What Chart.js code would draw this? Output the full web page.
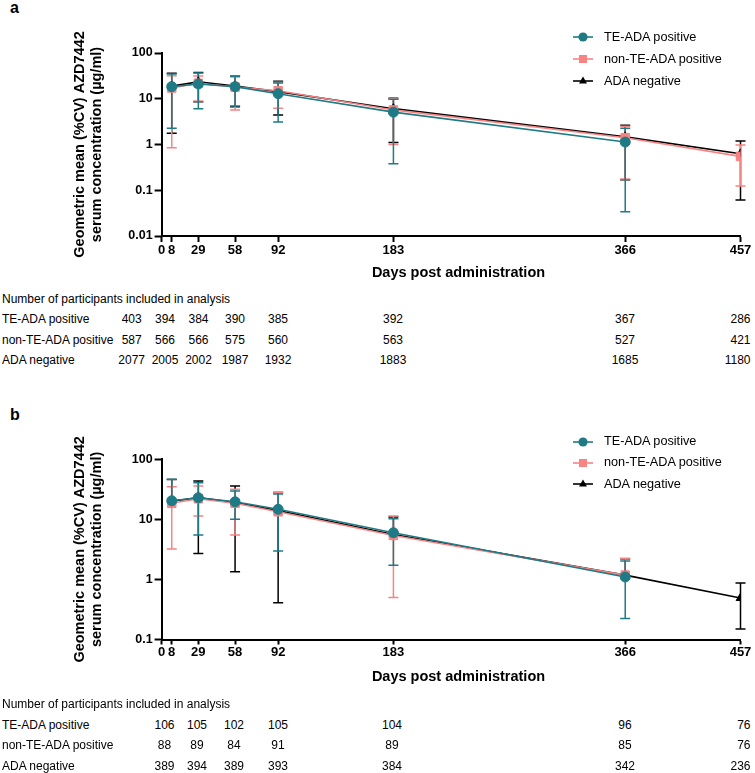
<!DOCTYPE html>
<html>
<head>
<meta charset="utf-8">
<script src="https://cdn.jsdelivr.net/npm/chart.js@4.4.1/dist/chart.umd.min.js"></script>
<style>
html,body{margin:0;padding:0;background:#fff;}
#page{position:relative;width:755px;height:773px;overflow:hidden;font-family:"Liberation Sans",Arial,sans-serif;color:#000;}
.cv{position:absolute;left:0;}
.t{position:absolute;white-space:nowrap;font-size:12px;line-height:12px;color:#000;}
.lbl{position:absolute;font-weight:bold;font-size:16px;line-height:16px;}
.lg{position:absolute;white-space:nowrap;font-size:12.7px;line-height:13px;}
.xt{position:absolute;white-space:nowrap;font-weight:bold;font-size:14.5px;line-height:17px;width:300px;text-align:center;}
</style>
</head>
<body>
<div id="page">
  <div class="lbl" style="left:10px;top:0px;">a</div>
  <div class="lbl" style="left:10px;top:407px;">b</div>
  <canvas id="chartA" class="cv" width="755" height="290" style="top:0px;width:755px;height:290px;"></canvas>
  <canvas id="chartB" class="cv" width="755" height="300" style="top:400px;width:755px;height:300px;"></canvas>
</div>
<script>
// ---------- data ----------
const days = [8, 29, 58, 92, 183, 366, 457];
const xTickValues = [0, 8, 29, 58, 92, 183, 366, 457];
const seriesNames = ['TE-ADA positive', 'non-TE-ADA positive', 'ADA negative'];
const yTicksA = [0.01, 0.1, 1, 10, 100];
const yTicksB = [0.1, 1, 10, 100];
const yTitle = ['Geometric mean (%CV) AZD7442', 'serum concentration (\u00b5g/ml)'];
const xTitle = 'Days post administration';

// Panel a: geometric mean and error-bar ends (µg/ml)
const aTeMean  = [18.4, 21.0, 18.4, 12.9, 5.1, 1.13, null];
const aTeHigh  = [34.8, 36.5, 31.0, 22.0, 9.7, 2.26, null];
const aTeLow   = [2.26, 6.07, 6.9, 3.1, 0.38, 0.034, null];
const aNonMean = [17.2, 21.8, 18.0, 15.0, 5.7, 1.41, 0.55];
const aNonHigh = [32.0, 31.6, 30.0, 23.0, 10.0, 2.5, 0.98];
const aNonLow  = [0.85, 8.9, 5.7, 6.2, 1.0, 0.176, 0.124];
const aNegMean = [18.9, 23.4, 19.0, 14.3, 6.07, 1.47, 0.63];
const aNegHigh = [36.0, 37.6, 31.0, 24.0, 10.2, 2.63, 1.19];
const aNegLow  = [1.76, 8.6, 6.7, 4.4, 1.1, 0.17, 0.061];

// Panel b
const bTeMean  = [20.4, 22.9, 19.6, 14.7, 5.98, 1.10, null];
const bTeHigh  = [46.4, 40.7, 29.6, 26.4, 10.2, 2.02, null];
const bTeLow   = [null, 5.47, 10.0, 2.96, 1.73, 0.224, null];
const bNonMean = [18.5, 22.0, 18.5, 13.4, 5.4, 1.18, null];
const bNonHigh = [34.9, 35.9, 31.6, 28.2, 11.4, 2.26, null];
const bNonLow  = [3.2, 11.4, 5.47, null, 0.5, null, null];
const bNegMean = [20.0, 23.0, 19.0, 14.0, 5.6, 1.18, 0.49];
const bNegHigh = [46.0, 43.5, 35.9, 28.0, 11.0, 2.2, 0.87];
const bNegLow  = [null, 2.71, 1.34, 0.41, null, null, 0.149];

// Participant tables
const tableHeader = 'Number of participants included in analysis';
const aTableTe  = [403, 394, 384, 390, 385, 392, 367, 286];
const aTableNon = [587, 566, 566, 575, 560, 563, 527, 421];
const aTableNeg = [2077, 2005, 2002, 1987, 1932, 1883, 1685, 1180];
const bTableTe  = [106, 105, 102, 105, 104, 96, 76];
const bTableNon = [88, 89, 84, 91, 89, 85, 76];
const bTableNeg = [389, 394, 389, 393, 384, 342, 236];

// ---------- style / layout ----------
const FONT = "'Liberation Sans', Arial, sans-serif";
const COLORS = ['#1e7b85', '#f88383', '#000000'];
const STYLES = ['circle', 'rect', 'triangle'];
const RADII = [5, 6, 5];

const errorBarPlugin = {
  id: 'errbars',
  beforeDatasetsDraw(chart) {
    const ctx = chart.ctx, xs = chart.scales.x, ys = chart.scales.y;
    const cap = 5;
    for (let di = chart.data.datasets.length - 1; di >= 0; di--) {
      const ds = chart.data.datasets[di];
      ctx.save();
      ctx.strokeStyle = ds.borderColor;
      ctx.lineWidth = 1.5;
      ds.data.forEach((pt, i) => {
        if (!pt || pt.y == null) return;
        const hi = ds.errHigh[i], lo = ds.errLow[i];
        const px = xs.getPixelForValue(pt.x);
        const py = ys.getPixelForValue(pt.y);
        const top = hi != null ? ys.getPixelForValue(hi) : py;
        const bot = lo != null ? ys.getPixelForValue(lo) : py;
        ctx.beginPath();
        ctx.moveTo(px, top); ctx.lineTo(px, bot);
        if (hi != null) { ctx.moveTo(px - cap, top); ctx.lineTo(px + cap, top); }
        if (lo != null) { ctx.moveTo(px - cap, bot); ctx.lineTo(px + cap, bot); }
        ctx.stroke();
      });
      ctx.restore();
    }
  }
};

function makeDataset(idx, mean, hi, lo) {
  return {
    label: seriesNames[idx],
    data: days.map((d, i) => ({ x: d, y: mean[i] })),
    errHigh: hi, errLow: lo,
    borderColor: COLORS[idx], backgroundColor: COLORS[idx],
    borderWidth: 1.6,
    pointStyle: STYLES[idx], pointRadius: RADII[idx],
    pointBorderWidth: 1, pointBackgroundColor: COLORS[idx], pointBorderColor: COLORS[idx],
    spanGaps: false, tension: 0, fill: false
  };
}

function makeChart(id, sets, yMin, yMax, yTicks, L) {
  return new Chart(document.getElementById(id), {
    type: 'line',
    data: { datasets: sets },
    options: {
      responsive: false, animation: false, devicePixelRatio: 1,
      layout: { padding: { top: L.top, right: L.right, left: 0, bottom: 0 } },
      plugins: { legend: { display: false }, tooltip: { enabled: false } },
      scales: {
        x: {
          type: 'linear', min: 0, max: 457,
          afterBuildTicks: s => { s.ticks = xTickValues.map(v => ({ value: v })); },
          afterFit: s => { s.height = L.xh; },
          ticks: { autoSkip: false, maxRotation: 0, minRotation: 0, padding: L.tp, color: '#000',
                   font: { family: FONT, size: 13, weight: 'bold' }, callback: v => String(v) },
          grid: { drawOnChartArea: false, drawTicks: true, tickLength: L.tl, tickWidth: 2, tickColor: '#000' },
          border: { display: true, color: '#000', width: 2 },
          title: { display: false }
        },
        y: {
          type: 'logarithmic', min: yMin, max: yMax,
          afterBuildTicks: s => { s.ticks = yTicks.map(v => ({ value: v, major: true })); },
          afterFit: s => { s.width = 161.6; },
          ticks: { padding: 2, color: '#000', font: { family: FONT, size: 12.5, weight: 'bold' },
                   callback: v => String(v) },
          grid: { drawOnChartArea: false, drawTicks: true, tickLength: 7, tickWidth: 2, tickColor: '#000' },
          border: { display: true, color: '#000', width: 2 },
          title: { display: true, text: yTitle, color: '#000',
                   font: { family: FONT, size: 14.5, weight: 'bold', lineHeight: '17px' },
                   padding: { top: 71.5, bottom: 0 } }
        }
      }
    },
    plugins: [errorBarPlugin]
  });
}

makeChart('chartA', [
  makeDataset(0, aTeMean, aTeHigh, aTeLow),
  makeDataset(1, aNonMean, aNonHigh, aNonLow),
  makeDataset(2, aNegMean, aNegHigh, aNegLow)
], 0.01, 100, yTicksA, { top: 53, right: 14.5, xh: 54, tl: 6, tp: 1 });

makeChart('chartB', [
  makeDataset(0, bTeMean, bTeHigh, bTeLow),
  makeDataset(1, bNonMean, bNonHigh, bNonLow),
  makeDataset(2, bNegMean, bNegHigh, bNegLow)
], 0.1, 100, yTicksB, { top: 59.3, right: 14.5, xh: 60.5, tl: 5, tp: 0 });

// ---------- titles, legends & tables (HTML text) ----------
const page = document.getElementById('page');
function addText(txt, left, top, cls, align) {
  const d = document.createElement('div');
  d.className = cls;
  d.textContent = txt;
  d.style.top = top + 'px';
  if (align === 'center') { d.style.left = (left - 50) + 'px'; d.style.width = '100px'; d.style.textAlign = 'center'; }
  else if (align === 'right') { d.style.left = (left - 100) + 'px'; d.style.width = '100px'; d.style.textAlign = 'right'; }
  else d.style.left = left + 'px';
  page.appendChild(d);
  return d;
}
addText(xTitle, 458.5 - 150, 264.4, 'xt');
addText(xTitle, 458.5 - 150, 668.4, 'xt');

function markerSvg(idx) {
  const c = COLORS[idx];
  let m;
  if (idx === 0) m = `<circle cx="15" cy="7" r="4.6" fill="${c}"/>`;
  else if (idx === 1) m = `<rect x="11" y="3" width="8" height="8" fill="${c}"/>`;
  else m = `<polygon points="15,2.5 19,9.5 11,9.5" fill="${c}"/>`;
  return `<svg width="30" height="14" xmlns="http://www.w3.org/2000/svg"><line x1="5" y1="7" x2="25" y2="7" stroke="${c}" stroke-width="1.6"/>${m}</svg>`;
}
function addLegend(rowYs) {
  seriesNames.forEach((n, i) => {
    const s = document.createElement('div');
    s.style.position = 'absolute'; s.style.left = '568px'; s.style.top = (rowYs[i] - 7) + 'px';
    s.style.width = '30px'; s.style.height = '14px';
    s.innerHTML = markerSvg(i);
    page.appendChild(s);
    addText(n, 604, rowYs[i] - 6.5, 'lg');
  });
}
addLegend([37.3, 59.3, 81]);
addLegend([441.7, 462.7, 484.3]);

function addTable(headerY, rowYs, cols, rows) {
  addText(tableHeader, 2, headerY - 6, 't');
  rows.forEach((vals, r) => {
    addText(seriesNames[r], 2, rowYs[r] - 6, 't');
    vals.forEach((v, c) => {
      const col = cols[c];
      addText(String(v), col.x, rowYs[r] - 6, 't', col.align);
    });
  });
}
const colsA = [{x:131.7,align:'center'},{x:165,align:'center'},{x:198.5,align:'center'},{x:235,align:'center'},
               {x:278,align:'center'},{x:393,align:'center'},{x:625,align:'center'},{x:750.5,align:'right'}];
const colsB = [{x:164.5,align:'center'},{x:197,align:'center'},{x:234,align:'center'},{x:278,align:'center'},
               {x:392,align:'center'},{x:625,align:'center'},{x:750.5,align:'right'}];
addTable(299.3, [319.3, 339.6, 360], colsA, [aTableTe, aTableNon, aTableNeg]);
addTable(704, [724.5, 745, 765.5], colsB, [bTableTe, bTableNon, bTableNeg]);
</script>
</body>
</html>
